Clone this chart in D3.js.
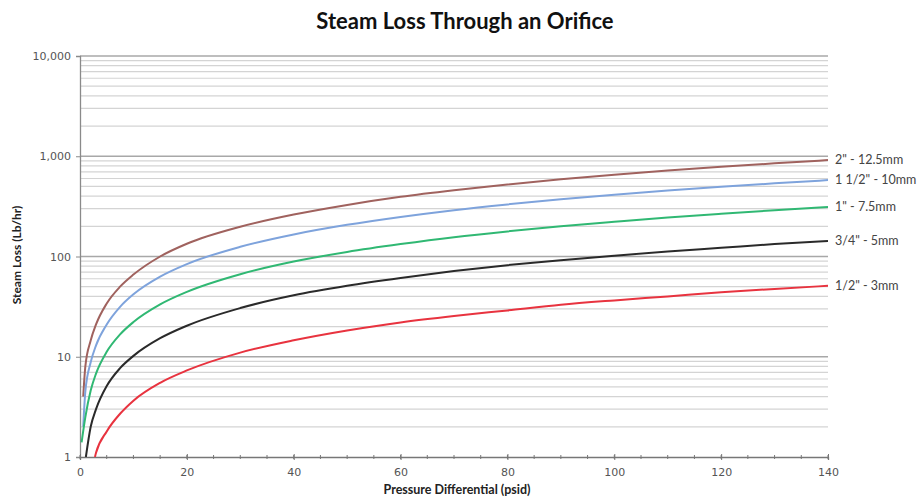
<!DOCTYPE html>
<html>
<head>
<meta charset="utf-8">
<script src="https://cdn.jsdelivr.net/npm/d3@7"></script>
<style>
  html, body { margin: 0; padding: 0; background: #fff; }
  svg { display: block; }
</style>
</head>
<body>
<svg id="chart" width="920" height="500"></svg>
<script>
// ---- data ----
const title = "Steam Loss Through an Orifice";
const xLabel = "Pressure Differential (psid)";
const yLabel = "Steam Loss (Lb/hr)";
const xTicks = [0, 20, 40, 60, 80, 100, 120, 140];
const yTicks = [1, 10, 100, 1000, 10000];
const yTickLabels = ["1", "10", "100", "1,000", "10,000"];

const seriesNames = ['2" - 12.5mm', '1 1/2" - 10mm', '1" - 7.5mm', '3/4" - 5mm', '1/2" - 3mm'];

const x2in   = [0.6, 1, 2, 3, 5, 7.5, 10, 15, 20, 30, 40, 50, 60, 70, 80, 90, 100, 110, 120, 130, 140];
const y2in   = [4, 8, 14.5, 21, 34, 50, 66, 100, 134, 198, 262, 327, 394, 458, 522, 588, 655, 720, 785, 850, 915];

const x15in  = [0.6, 1, 2, 3, 5, 7.5, 10, 15, 20, 30, 40, 50, 60, 70, 80, 90, 100, 110, 120, 130, 140];
const y15in  = [2.0, 4.5, 8.8, 13, 21, 31.5, 42, 63, 84, 125, 166, 207, 248, 290, 331, 372, 413, 455, 496, 537, 578];

const x1in   = [0.3, 1, 2, 3, 5, 7.5, 10, 15, 20, 30, 40, 50, 60, 70, 80, 90, 100, 110, 120, 130, 140];
const y1in   = [1.4, 2.5, 4.6, 6.8, 11.2, 16.7, 22.2, 33.3, 44.4, 66.6, 89, 111, 133, 156, 178, 200, 222, 245, 267, 289, 311];

const x34in  = [1.1, 2, 3, 5, 7.5, 10, 15, 20, 30, 40, 50, 60, 70, 80, 90, 100, 110, 120, 130, 140];
const y34in  = [1.0, 2.0, 3.0, 5.1, 7.7, 10.2, 15.3, 20.4, 30.6, 41, 51, 61, 71.5, 82, 92, 102, 112, 122, 133, 143];

const x12in  = [2.8, 3, 5, 7.5, 10, 15, 20, 30, 40, 50, 60, 70, 80, 90, 100, 110, 120, 130, 140];
const y12in  = [1.0, 1.1, 1.8, 2.7, 3.65, 5.5, 7.3, 11, 14.6, 18.3, 22, 25.5, 29, 33, 36.5, 40, 44, 47.5, 51];

// ---- styles ----
const colors = ["#a0625e", "#7ea3dc", "#30b873", "#2a2a2a", "#e8333f"];
const seriesX = [x2in, x15in, x1in, x34in, x12in];
const seriesY = [y2in, y15in, y1in, y34in, y12in];
const labelFont = "'Lato', 'DejaVu Sans', sans-serif";
const tickFont = "'DejaVu Sans', sans-serif";

const svg = d3.select("#chart");
const margin = { left: 80, right: 92, top: 56, bottom: 43 };
const W = 920, H = 500;
const plotW = W - margin.left - margin.right;
const plotH = H - margin.top - margin.bottom;

const x = d3.scaleLinear().domain([0, 140]).range([margin.left, margin.left + plotW]);
const y = d3.scaleLog().domain([1, 10000]).range([margin.top + plotH, margin.top]);

// grid lines (minor and major)
const minorVals = [];
for (let p = 0; p < 4; p++) {
  for (let m = 2; m <= 9; m++) minorVals.push(m * Math.pow(10, p));
}
const g = svg.append("g");
g.selectAll("line.minor").data(minorVals).enter().append("line")
  .attr("x1", x(0)).attr("x2", x(140))
  .attr("y1", d => y(d)).attr("y2", d => y(d))
  .attr("stroke", "#d4d4d4").attr("stroke-width", 1.2);
g.selectAll("line.major").data(yTicks.slice(1)).enter().append("line")
  .attr("x1", x(0)).attr("x2", x(140))
  .attr("y1", d => y(d)).attr("y2", d => y(d))
  .attr("stroke", "#a8a8a8").attr("stroke-width", 1.3);

// y axis
const yAxis = d3.axisLeft(y).tickValues(yTicks)
  .tickFormat((d, i) => yTickLabels[i]).tickSize(4).tickPadding(5);
const gy = svg.append("g").attr("transform", `translate(${x(0)},0)`).call(yAxis);
gy.select(".domain").attr("stroke", "#8a8a8a").attr("stroke-width", 1.3);
gy.selectAll(".tick line").attr("stroke", "#8a8a8a");
gy.selectAll(".tick text").attr("fill", "#555").style("font-family", tickFont).style("font-size", "11px");

// x axis (minor ticks every 5, major every 20)
const xMinor = d3.range(0, 141, 5);
const gxm = svg.append("g");
gxm.selectAll("line").data(xMinor).enter().append("line")
  .attr("x1", d => x(d)).attr("x2", d => x(d))
  .attr("y1", y(1) - 2).attr("y2", y(1) + 2)
  .attr("stroke", "#777").attr("stroke-width", 1);
const xAxis = d3.axisBottom(x).tickValues(xTicks).tickSize(3).tickPadding(8).tickFormat(d3.format("d"));
const gx = svg.append("g").attr("transform", `translate(0,${y(1)})`).call(xAxis);
gx.select(".domain").attr("stroke", "#777").attr("stroke-width", 1.3);
gx.selectAll(".tick line").attr("stroke", "#777").attr("y1", -3);
gx.selectAll(".tick text").attr("fill", "#555").style("font-family", tickFont).style("font-size", "11px");

// lines
const clip = svg.append("clipPath").attr("id", "clip").append("rect")
  .attr("x", x(0)).attr("y", y(10000)).attr("width", plotW).attr("height", plotH);
const line = d3.line().x(d => x(d[0])).y(d => y(d[1])).curve(d3.curveMonotoneX);
seriesNames.forEach((name, i) => {
  const pts = seriesX[i].map((xv, j) => [xv, seriesY[i][j]]);
  svg.append("path").datum(pts)
    .attr("d", line)
    .attr("fill", "none")
    .attr("stroke", colors[i])
    .attr("stroke-width", 2)
    .attr("clip-path", "url(#clip)");
  svg.append("text")
    .attr("x", x(140) + 7)
    .attr("y", y(seriesY[i][seriesY[i].length - 1]))
    .attr("dy", "0.35em")
    .attr("fill", "#444")
    .style("font-family", labelFont)
    .style("font-size", "12.5px")
    .text(name);
});

// title and axis labels
svg.append("text")
  .attr("x", 465).attr("y", 29)
  .attr("text-anchor", "middle")
  .attr("fill", "#111")
  .style("font-family", labelFont)
  .style("font-weight", "bold")
  .style("font-size", "22px")
  .text(title);

svg.append("text")
  .attr("x", 457).attr("y", 494)
  .attr("text-anchor", "middle")
  .attr("fill", "#222")
  .style("font-family", labelFont)
  .style("font-weight", "bold")
  .style("font-size", "12.5px")
  .text(xLabel);

svg.append("text")
  .attr("transform", "translate(21,255) rotate(-90)")
  .attr("text-anchor", "middle")
  .attr("fill", "#222")
  .style("font-family", labelFont)
  .style("font-weight", "bold")
  .style("font-size", "12px")
  .text(yLabel);
</script>
</body>
</html>
